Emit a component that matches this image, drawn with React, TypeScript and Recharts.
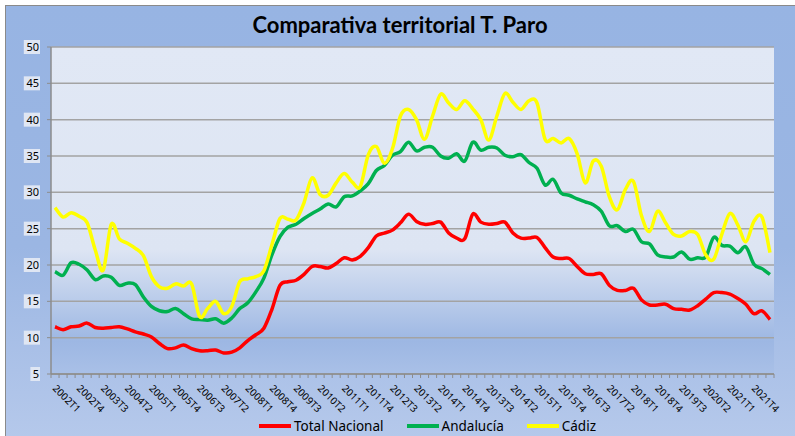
import React from 'react';
import { LineChart, Line, XAxis, YAxis, CartesianGrid } from 'recharts';

const categories = [
  '2002T1','2002T2','2002T3','2002T4','2003T1','2003T2','2003T3','2003T4',
  '2004T1','2004T2','2004T3','2004T4','2005T1','2005T2','2005T3','2005T4',
  '2006T1','2006T2','2006T3','2006T4','2007T1','2007T2','2007T3','2007T4',
  '2008T1','2008T2','2008T3','2008T4','2009T1','2009T2','2009T3','2009T4',
  '2010T1','2010T2','2010T3','2010T4','2011T1','2011T2','2011T3','2011T4',
  '2012T1','2012T2','2012T3','2012T4','2013T1','2013T2','2013T3','2013T4',
  '2014T1','2014T2','2014T3','2014T4',
  '2013T1','2013T2','2013T3','2013T4','2014T1','2014T2','2014T3','2014T4',
  '2015T1','2015T2','2015T3','2015T4','2016T1','2016T2','2016T3','2016T4',
  '2017T1','2017T2','2017T3','2017T4','2018T1','2018T2','2018T3','2018T4',
  '2019T1','2019T2','2019T3','2019T4','2020T1','2020T2','2020T3','2020T4',
  '2021T1','2021T2','2021T3','2021T4','2022T1','2022T2',
];

const totalNacional = [
  11.5, 11.1, 11.5, 11.6, 12.0, 11.4, 11.3, 11.4, 11.5, 11.2,
  10.8, 10.5, 10.1, 9.2, 8.5, 8.6, 9.0, 8.5, 8.2, 8.2,
  8.3, 7.9, 8.0, 8.6, 9.6, 10.4, 11.3, 13.9, 17.2, 17.7,
  17.9, 18.7, 19.8, 19.8, 19.6, 20.2, 21.0, 20.7, 21.2, 22.4,
  24.0, 24.4, 24.8, 25.8, 27.0, 26.0, 25.6, 25.7, 25.9, 24.4,
  23.7, 23.6, 27.0, 25.9, 25.6, 25.7, 25.9, 24.4, 23.7, 23.7,
  23.8, 22.4, 21.1, 20.9, 20.9, 19.8, 18.8, 18.7, 18.8, 17.2,
  16.5, 16.5, 16.8, 15.2, 14.5, 14.5, 14.6, 14.0, 13.9, 13.8,
  14.4, 15.3, 16.2, 16.2, 16.0, 15.4, 14.6, 13.3, 13.7, 12.5,
];

const andalucia = [
  19.1, 18.6, 20.3, 20.1, 19.3, 18.0, 18.5, 18.3, 17.2, 17.5,
  17.3, 15.6, 14.3, 13.7, 13.6, 14.0, 13.3, 12.6, 12.5, 12.4,
  12.6, 12.0, 12.7, 14.0, 14.8, 16.3, 18.2, 21.4, 23.9, 25.2,
  25.6, 26.4, 27.1, 27.7, 28.4, 28.0, 29.4, 29.5, 30.2, 31.2,
  33.0, 33.7, 35.1, 35.6, 36.9, 35.7, 36.2, 36.2, 35.0, 34.7,
  35.3, 34.3, 36.9, 35.8, 36.2, 36.1, 35.1, 34.9, 35.2, 34.1,
  33.3, 31.0, 31.8, 29.9, 29.6, 29.1, 28.7, 28.3, 27.4, 25.4,
  25.4, 24.6, 24.9, 23.2, 22.9, 21.4, 21.1, 21.1, 21.8, 20.8,
  21.0, 21.1, 23.8, 22.7, 22.6, 21.7, 22.5, 20.1, 19.5, 18.7,
];

const cadiz = [
  27.9, 26.6, 27.2, 26.7, 25.8, 22.1, 19.3, 25.6, 23.6, 23.0,
  22.3, 21.3, 18.4, 17.0, 16.8, 17.4, 17.1, 17.4, 12.9, 14.0,
  15.0, 13.3, 14.3, 17.7, 18.1, 18.4, 19.2, 22.8, 26.4, 26.3,
  26.2, 28.6, 32.0, 29.7, 29.6, 31.3, 32.6, 31.4, 30.8, 35.2,
  36.3, 34.0, 36.0, 40.5, 41.4, 40.0, 37.3, 40.5, 43.5, 42.3,
  41.4, 42.6, 41.5, 40.0, 37.2, 40.5, 43.6, 42.4, 41.4, 42.6,
  42.3, 37.3, 37.4, 36.8, 37.4, 35.3, 31.3, 34.3, 33.6, 29.4,
  27.6, 30.4, 31.5, 26.8, 24.6, 27.4, 25.8, 24.2, 24.0, 24.6,
  24.2, 21.4, 20.8, 24.2, 27.1, 25.5, 23.2, 26.0, 26.6, 21.7,
];

const yTicks = [5, 10, 15, 20, 25, 30, 35, 40, 45, 50];
const labelEvery = 3;
const lastLabelIndex = 87;

const seriesNames = ['Total Nacional', 'Andalucía', 'Cádiz'];
const seriesColors = ['#ff0000', '#00b050', '#ffff00'];

const data = categories.map((q, i) => ({
  i,
  q,
  total: totalNacional[i],
  anda: andalucia[i],
  cadiz: cadiz[i],
}));

const W = 795;
const H = 436;
const M = { top: 47, right: 21, left: 5, bottom: 12 };
const YW = 46;
const XH = 50;
const plotW = W - M.left - M.right - YW;
const band = plotW / categories.length;

// Excel-like smoothing (Catmull-Rom as cubic Bezier)
function excelCurve(context: any) {
  let pts: number[][] = [];
  return {
    areaStart() {},
    areaEnd() {},
    lineStart() {
      pts = [];
    },
    point(x: number, y: number) {
      pts.push([+x, +y]);
    },
    lineEnd() {
      if (!pts.length) return;
      context.moveTo(pts[0][0], pts[0][1]);
      for (let k = 0; k < pts.length - 1; k++) {
        const p0 = pts[k - 1] || pts[k];
        const p1 = pts[k];
        const p2 = pts[k + 1];
        const p3 = pts[k + 2] || pts[k + 1];
        context.bezierCurveTo(
          p1[0] + (p2[0] - p0[0]) / 6,
          p1[1] + (p2[1] - p0[1]) / 6,
          p2[0] - (p3[0] - p1[0]) / 6,
          p2[1] - (p3[1] - p1[1]) / 6,
          p2[0],
          p2[1]
        );
      }
    },
  };
}

const XTick = (props: any) => {
  const { x, y, payload } = props;
  const idx = payload.value as number;
  const left = x - band / 2;
  const right = x + band / 2;
  const lx = x - 3;
  const ly = y + 15;
  return (
    <g>
      <line x1={left} y1={y} x2={left} y2={y + 4} stroke="#8c8c8c" strokeWidth={1} />
      {idx === categories.length - 1 && (
        <line x1={right} y1={y} x2={right} y2={y + 4} stroke="#8c8c8c" strokeWidth={1} />
      )}
      {idx % labelEvery === 0 && idx <= lastLabelIndex && (
        <text
          x={lx}
          y={ly}
          transform={`rotate(45, ${lx}, ${ly})`}
          textAnchor="start"
          fontSize={10}
          fontFamily="'Noto Sans', sans-serif"
          fill="#000"
        >
          {categories[idx]}
        </text>
      )}
    </g>
  );
};

const YTick = (props: any) => {
  const { x, y, payload } = props;
  const label = String(payload.value);
  const w = label.length * 6.6 + 3;
  return (
    <g>
      <rect x={x - w + 1} y={y - 7} width={w} height={14} fill="#dfe6f3" />
      <text
        x={x}
        y={y}
        dy="0.36em"
        textAnchor="end"
        fontSize={11}
        fontFamily="'Noto Sans', sans-serif"
        fill="#000"
      >
        {label}
      </text>
    </g>
  );
};

export default function App() {
  return (
    <div style={{ position: 'absolute', left: 0, top: 0, width: W, height: H, overflow: 'hidden' }}>
      <div
        style={{
          position: 'absolute',
          left: 5,
          top: 5,
          width: 800,
          height: 440,
          boxSizing: 'border-box',
          border: '1.5px solid #8a8a8a',
          background: 'linear-gradient(to bottom, #97b4e3 0%, #9bb6e3 55%, #b6c9eb 100%)',
        }}
      />
      <div
        style={{
          position: 'absolute',
          left: 0,
          top: 11,
          width: 800,
          textAlign: 'center',
          fontFamily: "Lato, 'Noto Sans', sans-serif",
          fontWeight: 700,
          fontSize: 22,
          color: '#000',
        }}
      >
        Comparativa territorial T. Paro
      </div>
      <div style={{ position: 'absolute', left: 0, top: 0 }}>
        <LineChart width={W} height={H} data={data} margin={M}>
          <defs>
            <linearGradient id="plotBg" x1="0" y1="0" x2="0" y2="1">
              <stop offset="0" stopColor="#e1e8f5" />
              <stop offset="0.62" stopColor="#dde5f3" />
              <stop offset="0.9" stopColor="#9db7e3" />
              <stop offset="1" stopColor="#a9c0e7" />
            </linearGradient>
          </defs>
          <CartesianGrid
            vertical={false}
            stroke="#a3a3a3"
            strokeWidth={1.5}
            fill="url(#plotBg)"
            fillOpacity={1}
          />
          <XAxis
            dataKey="i"
            type="category"
            scale="band"
            interval={0}
            height={XH}
            tickLine={false}
            tickSize={0}
            tickMargin={0}
            axisLine={{ stroke: '#8c8c8c', strokeWidth: 1.5 }}
            tick={<XTick />}
          />
          <YAxis
            type="number"
            domain={[5, 50]}
            ticks={yTicks}
            width={YW}
            interval={0}
            tickSize={4}
            tickMargin={8}
            tickLine={{ stroke: '#8c8c8c' }}
            axisLine={{ stroke: '#8c8c8c', strokeWidth: 1.5 }}
            tick={<YTick />}
          />
          <Line dataKey="total" name={seriesNames[0]} stroke={seriesColors[0]} strokeWidth={3.5} type={excelCurve as any} dot={false} activeDot={false} isAnimationActive={false} />
          <Line dataKey="anda" name={seriesNames[1]} stroke={seriesColors[1]} strokeWidth={3.5} type={excelCurve as any} dot={false} activeDot={false} isAnimationActive={false} />
          <Line dataKey="cadiz" name={seriesNames[2]} stroke={seriesColors[2]} strokeWidth={3.5} type={excelCurve as any} dot={false} activeDot={false} isAnimationActive={false} />
        </LineChart>
      </div>
      <div
        style={{
          position: 'absolute',
          left: 0,
          top: 417,
          width: 855,
          display: 'flex',
          justifyContent: 'center',
          alignItems: 'center',
          fontFamily: "'Noto Sans', sans-serif",
          fontSize: 13.5,
          color: '#000',
        }}
      >
        {seriesNames.map((n, k) => (
          <div key={n} style={{ display: 'flex', alignItems: 'center', marginRight: k < 2 ? 23 : 0 }}>
            <div style={{ width: 32, height: 4, background: seriesColors[k], marginRight: 3 }} />
            <span>{n}</span>
          </div>
        ))}
      </div>
    </div>
  );
}
